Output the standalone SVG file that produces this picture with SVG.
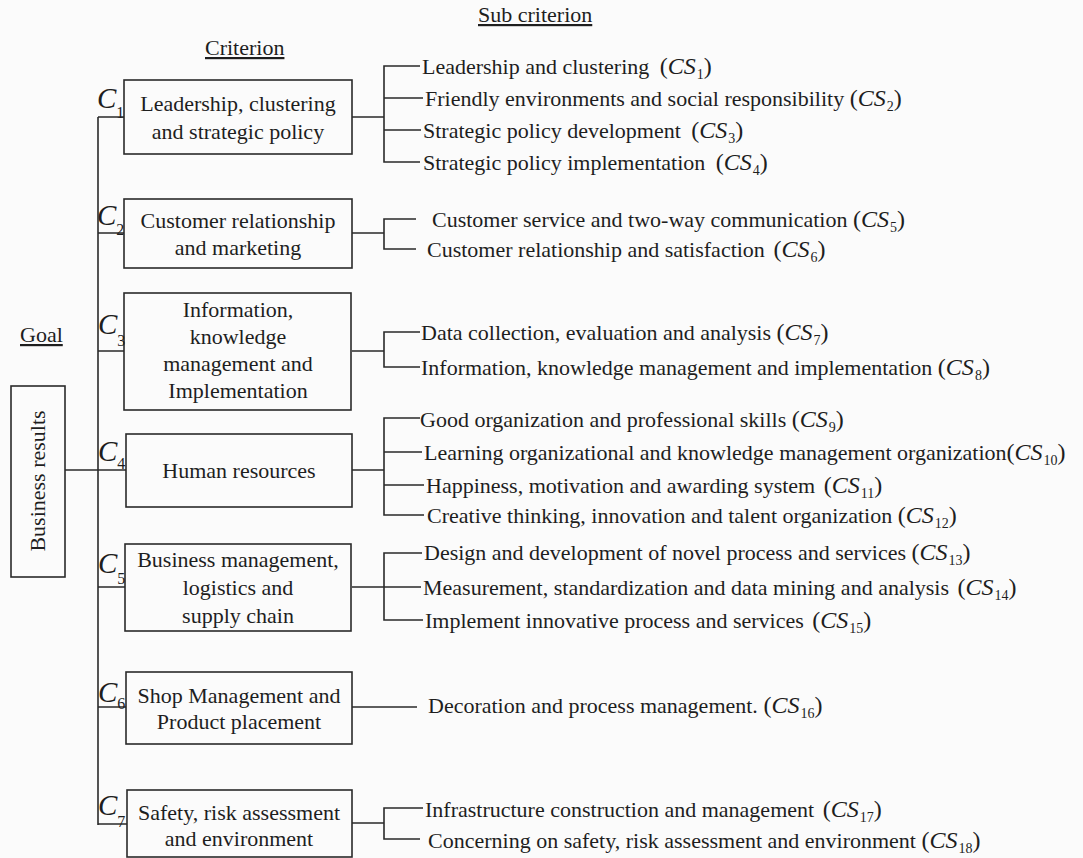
<svg xmlns="http://www.w3.org/2000/svg" width="1083" height="858" viewBox="0 0 1083 858">
<style>
text{font-family:"Liberation Serif","Times New Roman",serif;fill:#1e1e1e}
.t{font-size:22px}
.c{font-size:22px;text-anchor:middle}
.hd{font-size:22px;text-decoration:underline}
.cl{font-size:29px;font-style:italic}
.cls{font-size:16px;font-style:normal}
.p{font-size:24px}
.v{font-size:24px;font-style:italic}
.sb{font-size:14px;font-style:normal}
.box{fill:none;stroke:#2a2a2a;stroke-width:1.6}
.ln{fill:none;stroke:#2a2a2a;stroke-width:1.6}
</style>
<rect width="1083" height="858" fill="#fbfbfb"/>

<g id="headers">
<text class="hd" x="478" y="22">Sub criterion</text>
<text class="hd" x="205" y="55">Criterion</text>
<text class="hd" x="20" y="342">Goal</text>
</g>

<g id="connectors">
<path class="ln" d="M65,470 H126"/>
<path class="ln" d="M98,117 V825"/>
<path class="ln" d="M98,117 H124 M98,233 H124 M98,351 H124 M98,587 H125 M98,707 H126 M98,824 H127"/>
<path class="ln" d="M352,117 H384 M420,66 H384 V162 H420 M384,98 H423 M384,130 H421"/>
<path class="ln" d="M352,233 H384 M416,219 H384 V249 H416"/>
<path class="ln" d="M352,351 H384 M420,332 H384 V367 H420"/>
<path class="ln" d="M352,470 H384 M420,418 H384 V515 H424 M384,452 H422 M384,485 H424"/>
<path class="ln" d="M352,587 H384 M422,553 H384 V620 H423 M384,587 H421"/>
<path class="ln" d="M352,707 H417"/>
<path class="ln" d="M352,823 H384 M423,808 H384 V839 H420"/>
</g>

<g id="goal">
<rect class="box" x="11" y="386" width="54" height="191"/>
<text class="c" transform="translate(45,481) rotate(-90)">Business results</text>
</g>

<g id="C1">
<rect class="box" x="124" y="80" width="228" height="74"/>
<text class="cl" x="97" y="108">C<tspan class="cls" y="118">1</tspan></text>
<text class="c" x="238" y="111">Leadership, clustering</text>
<text class="c" x="238" y="139">and strategic policy</text>
</g>
<g id="C2">
<rect class="box" x="124" y="199" width="228" height="69"/>
<text class="cl" x="97" y="225">C<tspan class="cls" y="235">2</tspan></text>
<text class="c" x="238" y="228">Customer relationship</text>
<text class="c" x="238" y="255">and marketing</text>
</g>
<g id="C3">
<rect class="box" x="124" y="293" width="227" height="117"/>
<text class="cl" x="98" y="334">C<tspan class="cls" y="346">3</tspan></text>
<text class="c" x="238" y="317">Information,</text>
<text class="c" x="238" y="344">knowledge</text>
<text class="c" x="238" y="371">management and</text>
<text class="c" x="238" y="398">Implementation</text>
</g>
<g id="C4">
<rect class="box" x="126" y="434" width="226" height="73"/>
<text class="cl" x="98" y="461">C<tspan class="cls" y="469">4</tspan></text>
<text class="c" x="239" y="478">Human resources</text>
</g>
<g id="C5">
<rect class="box" x="125" y="544" width="226" height="87"/>
<text class="cl" x="98" y="573">C<tspan class="cls" y="584">5</tspan></text>
<text class="c" x="238" y="567">Business management,</text>
<text class="c" x="238" y="595">logistics and</text>
<text class="c" x="238" y="623">supply chain</text>
</g>
<g id="C6">
<rect class="box" x="126" y="672" width="226" height="72"/>
<text class="cl" x="98" y="702">C<tspan class="cls" y="709">6</tspan></text>
<text class="c" x="239" y="703">Shop Management and</text>
<text class="c" x="239" y="729">Product placement</text>
</g>
<g id="C7">
<rect class="box" x="127" y="790" width="225" height="67"/>
<text class="cl" x="98" y="815">C<tspan class="cls" y="827">7</tspan></text>
<text class="c" x="239" y="820">Safety, risk assessment</text>
<text class="c" x="239" y="846">and environment</text>
</g>

<g id="CS1"><text class="t" x="422" y="74">Leadership and clustering <tspan class="p" dx="5">(</tspan><tspan class="v">CS</tspan><tspan class="sb" dx="1" dy="5">1</tspan><tspan class="p" dy="-5">)</tspan></text></g>
<g id="CS2"><text class="t" x="425" y="106">Friendly environments and social responsibility <tspan class="p">(</tspan><tspan class="v">CS</tspan><tspan class="sb" dx="1" dy="5">2</tspan><tspan class="p" dy="-5">)</tspan></text></g>
<g id="CS3"><text class="t" x="423" y="138">Strategic policy development <tspan class="p" dx="5">(</tspan><tspan class="v">CS</tspan><tspan class="sb" dx="1" dy="5">3</tspan><tspan class="p" dy="-5">)</tspan></text></g>
<g id="CS4"><text class="t" x="423" y="170">Strategic policy implementation <tspan class="p" dx="5">(</tspan><tspan class="v">CS</tspan><tspan class="sb" dx="1" dy="5">4</tspan><tspan class="p" dy="-5">)</tspan></text></g>
<g id="CS5"><text class="t" x="432" y="227">Customer service and two-way communication <tspan class="p">(</tspan><tspan class="v">CS</tspan><tspan class="sb" dx="1" dy="5">5</tspan><tspan class="p" dy="-5">)</tspan></text></g>
<g id="CS6"><text class="t" x="427" y="257">Customer relationship and satisfaction <tspan class="p" dx="3">(</tspan><tspan class="v">CS</tspan><tspan class="sb" dx="1" dy="5">6</tspan><tspan class="p" dy="-5">)</tspan></text></g>
<g id="CS7"><text class="t" x="421" y="340">Data collection, evaluation and analysis <tspan class="p">(</tspan><tspan class="v">CS</tspan><tspan class="sb" dx="1" dy="5">7</tspan><tspan class="p" dy="-5">)</tspan></text></g>
<g id="CS8"><text class="t" x="421" y="375">Information, knowledge management and implementation <tspan class="p">(</tspan><tspan class="v">CS</tspan><tspan class="sb" dx="1" dy="5">8</tspan><tspan class="p" dy="-5">)</tspan></text></g>
<g id="CS9"><text class="t" x="420" y="427">Good organization and professional skills <tspan class="p">(</tspan><tspan class="v">CS</tspan><tspan class="sb" dx="1" dy="5">9</tspan><tspan class="p" dy="-5">)</tspan></text></g>
<g id="CS10"><text class="t" x="424" y="460">Learning organizational and knowledge management organization<tspan class="p">(</tspan><tspan class="v">CS</tspan><tspan class="sb" dx="1" dy="5">10</tspan><tspan class="p" dy="-5">)</tspan></text></g>
<g id="CS11"><text class="t" x="426" y="493">Happiness, motivation and awarding system <tspan class="p" dx="3">(</tspan><tspan class="v">CS</tspan><tspan class="sb" dx="1" dy="5">11</tspan><tspan class="p" dy="-5">)</tspan></text></g>
<g id="CS12"><text class="t" x="427" y="523">Creative thinking, innovation and talent organization <tspan class="p">(</tspan><tspan class="v">CS</tspan><tspan class="sb" dx="1" dy="5">12</tspan><tspan class="p" dy="-5">)</tspan></text></g>
<g id="CS13"><text class="t" x="424" y="560">Design and development of novel process and services <tspan class="p">(</tspan><tspan class="v">CS</tspan><tspan class="sb" dx="1" dy="5">13</tspan><tspan class="p" dy="-5">)</tspan></text></g>
<g id="CS14"><text class="t" x="423" y="595">Measurement, standardization and data mining and analysis <tspan class="p" dx="3">(</tspan><tspan class="v">CS</tspan><tspan class="sb" dx="1" dy="5">14</tspan><tspan class="p" dy="-5">)</tspan></text></g>
<g id="CS15"><text class="t" x="425" y="628">Implement innovative process and services <tspan class="p" dx="3">(</tspan><tspan class="v">CS</tspan><tspan class="sb" dx="1" dy="5">15</tspan><tspan class="p" dy="-5">)</tspan></text></g>
<g id="CS16"><text class="t" x="428" y="713">Decoration and process management. <tspan class="p">(</tspan><tspan class="v">CS</tspan><tspan class="sb" dx="1" dy="5">16</tspan><tspan class="p" dy="-5">)</tspan></text></g>
<g id="CS17"><text class="t" x="425" y="817">Infrastructure construction and management <tspan class="p" dx="3">(</tspan><tspan class="v">CS</tspan><tspan class="sb" dx="1" dy="5">17</tspan><tspan class="p" dy="-5">)</tspan></text></g>
<g id="CS18"><text class="t" x="428" y="848">Concerning on safety, risk assessment and environment <tspan class="p">(</tspan><tspan class="v">CS</tspan><tspan class="sb" dx="1" dy="5">18</tspan><tspan class="p" dy="-5">)</tspan></text></g>
</svg>
